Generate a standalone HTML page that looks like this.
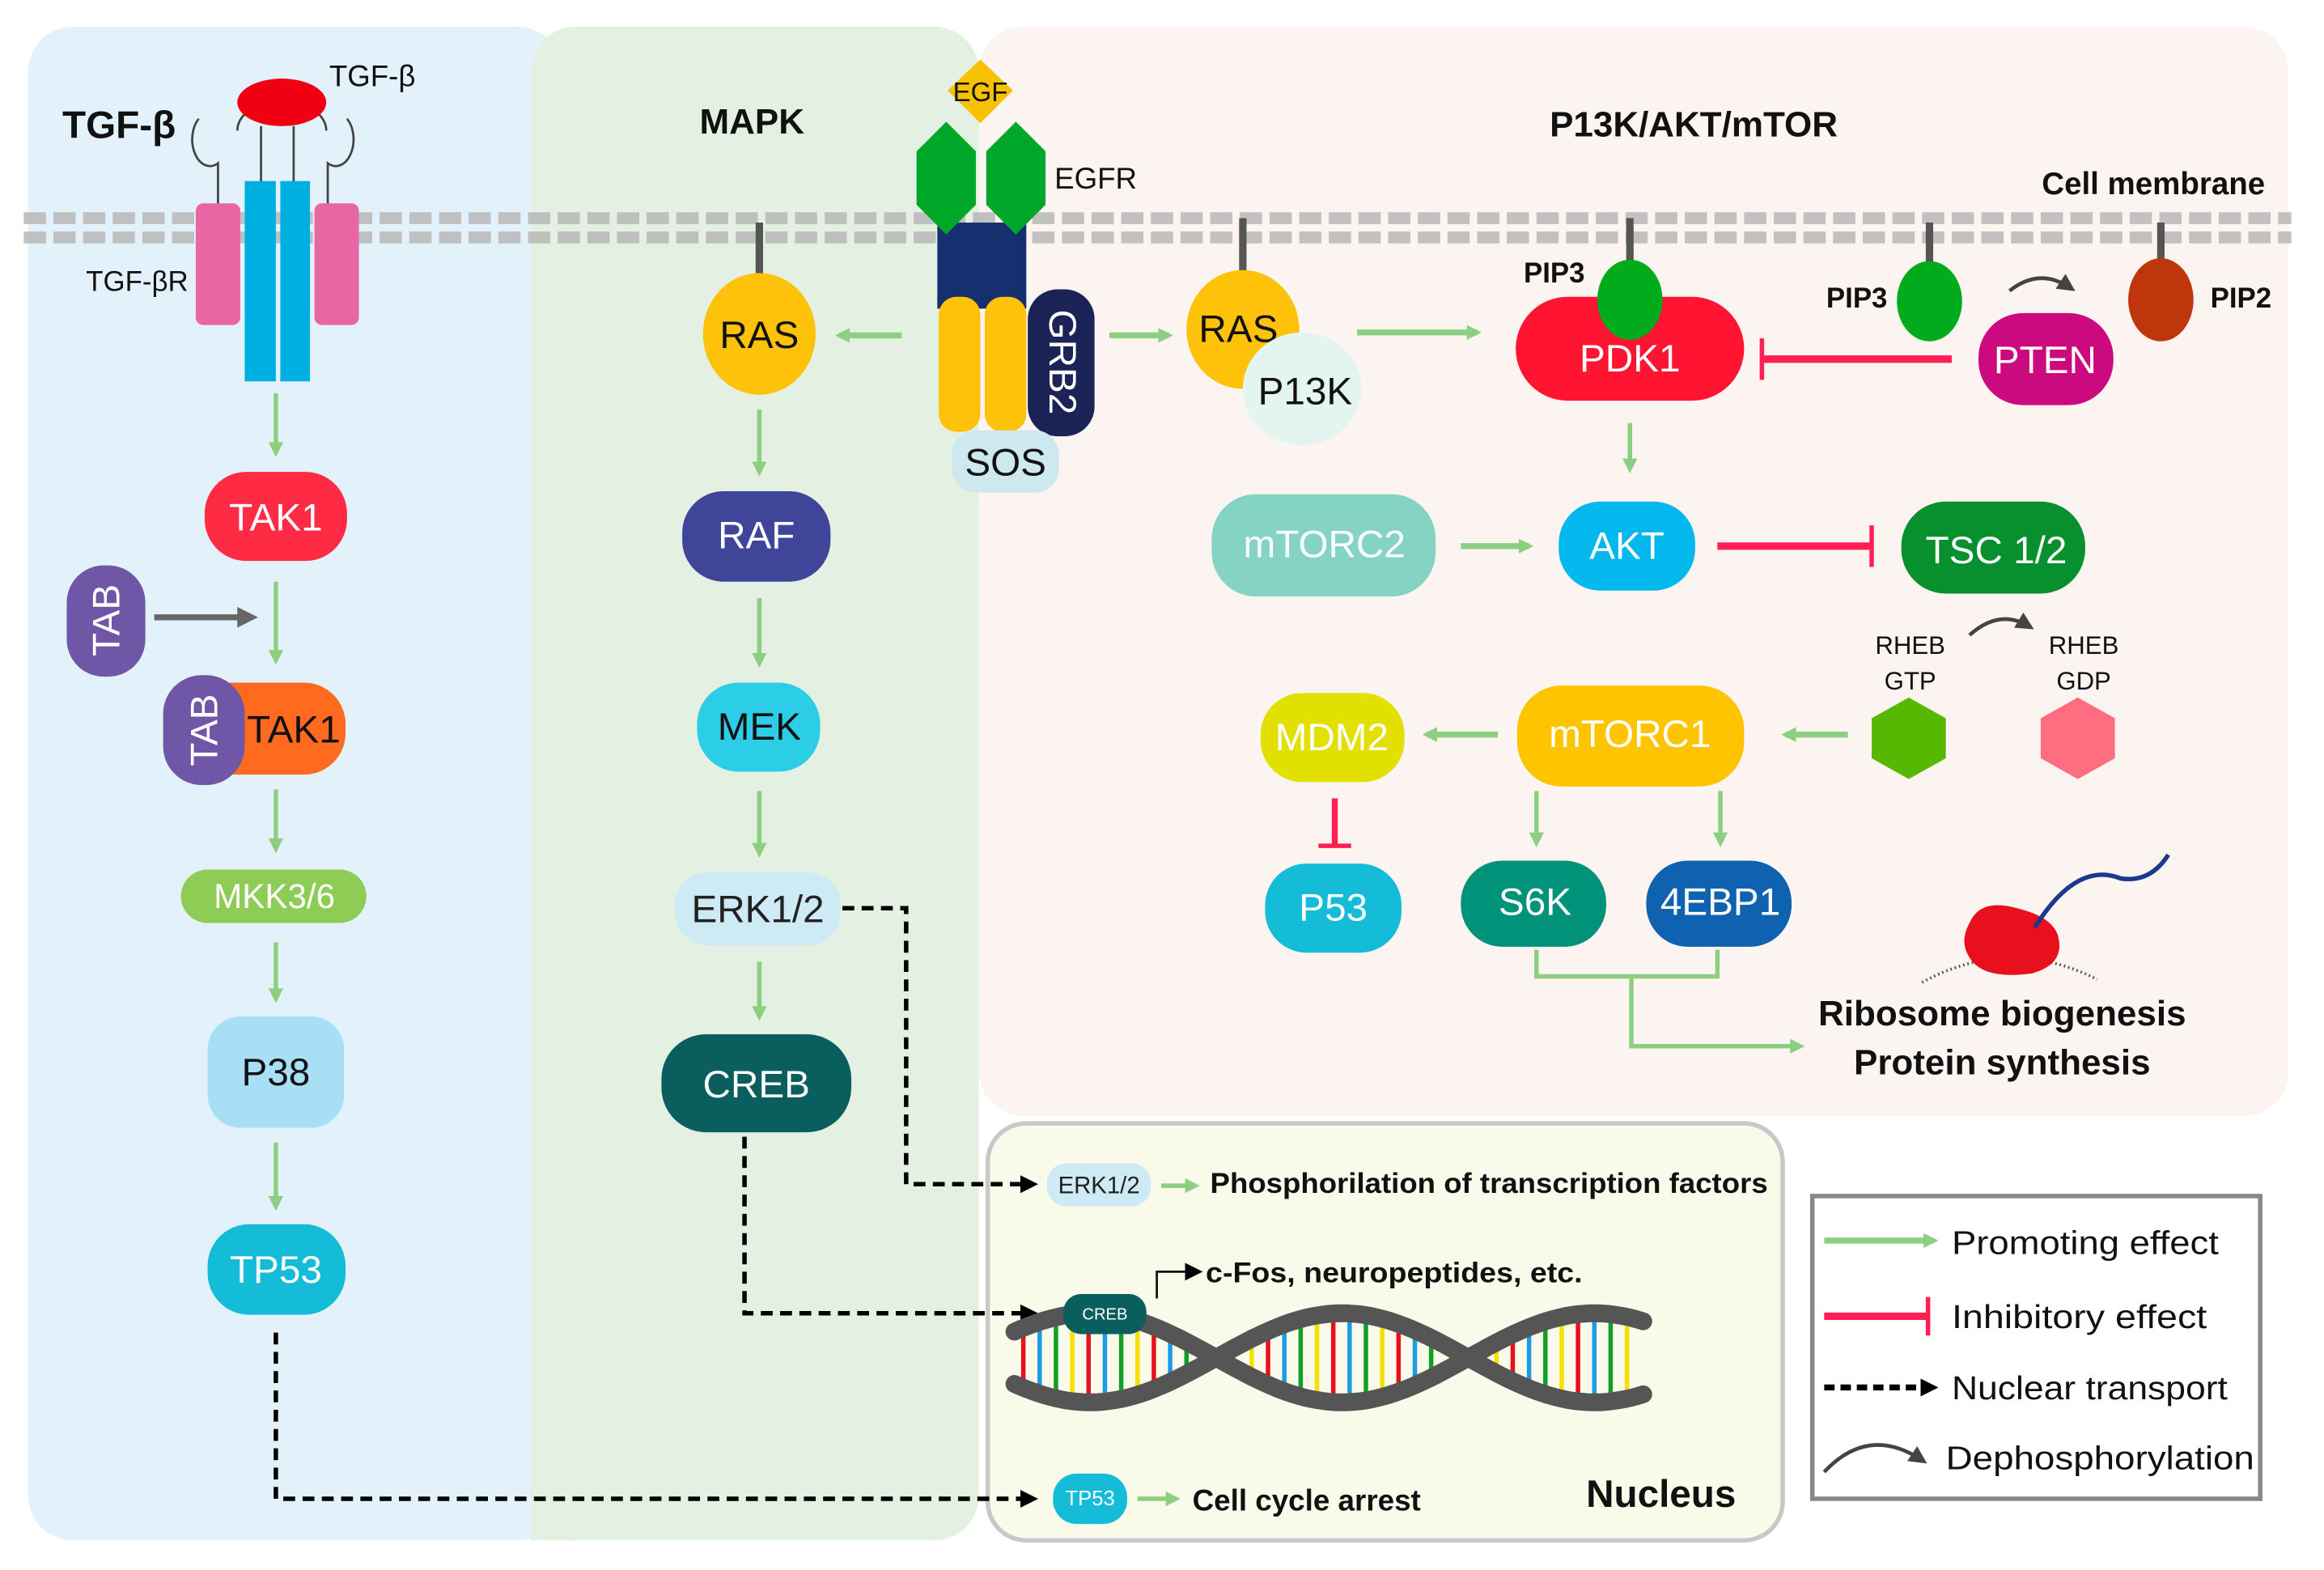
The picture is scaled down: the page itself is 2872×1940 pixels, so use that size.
<!DOCTYPE html>
<html><head><meta charset="utf-8"><style>
html,body{margin:0;padding:0;background:#fff;}
svg{display:block;}
text{font-family:"Liberation Sans",sans-serif;}
</style></head><body>
<svg id="s" width="2872" height="1940" viewBox="0 0 1567 1058" preserveAspectRatio="none" xmlns="http://www.w3.org/2000/svg">
<defs>
<marker id="ga" markerWidth="10" markerHeight="10" refX="7" refY="5" orient="auto" markerUnits="userSpaceOnUse"><path d="M0,0 L10,5 L0,10 Z" fill="#8ccf80"/></marker>
<marker id="ka" markerWidth="12" markerHeight="12" refX="9" refY="6" orient="auto" markerUnits="userSpaceOnUse"><path d="M0,0 L12,6 L0,12 Z" fill="#000"/></marker>
<marker id="da" markerWidth="14" markerHeight="14" refX="10" refY="7" orient="auto" markerUnits="userSpaceOnUse"><path d="M0,0 L14,7 L0,14 Z" fill="#666"/></marker>
<marker id="ca" markerWidth="12" markerHeight="12" refX="8" refY="6" orient="auto" markerUnits="userSpaceOnUse"><path d="M0,0 L12,6 L0,12 Z" fill="#444"/></marker>
</defs>
<!-- panels -->
<rect x="19" y="18" width="360" height="1020" rx="30" fill="#e3f2fa"/>
<rect x="660" y="18" width="883" height="734" rx="30" fill="#fcf4f1"/>
<rect x="358" y="18" width="302" height="1020" rx="30" fill="#e3f0e2"/>
<rect x="358" y="60" width="30" height="978" fill="#e3f0e2"/>
<rect x="666" y="757" width="536" height="281" rx="26" fill="#fafaeb" stroke="#c8c8c8" stroke-width="3"/>
<rect x="1222" y="806" width="302" height="204" fill="#fff" stroke="#888" stroke-width="3"/>
<!-- membrane -->
<line x1="16" y1="147" x2="1545" y2="147" stroke="#b8b8b8" stroke-width="8" stroke-dasharray="15 5" opacity="0.85"/>
<line x1="16" y1="160" x2="1545" y2="160" stroke="#b8b8b8" stroke-width="8" stroke-dasharray="15 5" opacity="0.85"/>

<g font-size="26" text-anchor="middle" dominant-baseline="central" fill="#fff">
<!-- TGF -->
<text x="42" y="93" font-size="26" font-weight="bold" fill="#111" text-anchor="start" dominant-baseline="auto">TGF-β</text>
<text x="222" y="58" font-size="20" fill="#111" text-anchor="start" dominant-baseline="auto">TGF-β</text>
<text x="58" y="196" font-size="19" fill="#111" text-anchor="start" dominant-baseline="auto">TGF-βR</text>
<path d="M160,88 A30,20 0 1 1 220,88" fill="none" stroke="#444" stroke-width="1.5"/>
<ellipse cx="190" cy="69" rx="30" ry="16" fill="#f00010"/>
<line x1="176" y1="85" x2="176" y2="125" stroke="#444" stroke-width="1.5"/>
<line x1="198" y1="85" x2="198" y2="125" stroke="#444" stroke-width="1.5"/>
<path d="M134,80 A12,18 0 0 0 147,110 L147,140" fill="none" stroke="#444" stroke-width="1.5"/>
<path d="M234,80 A12,18 0 0 1 221,110 L221,140" fill="none" stroke="#444" stroke-width="1.5"/>
<rect x="132" y="137" width="30" height="82" rx="5" fill="#e966a5"/>
<rect x="212" y="137" width="30" height="82" rx="5" fill="#e966a5"/>
<rect x="165" y="122" width="21" height="135" fill="#00afe2"/>
<rect x="189" y="122" width="20" height="135" fill="#00afe2"/>
<line x1="186" y1="265" x2="186" y2="305" stroke="#8ccf80" stroke-width="3" marker-end="url(#ga)"/>
<rect x="138" y="318" width="96" height="60" rx="28" fill="#ff2a44"/><text x="186" y="349">TAK1</text>
<line x1="186" y1="392" x2="186" y2="445" stroke="#8ccf80" stroke-width="3" marker-end="url(#ga)"/>
<rect x="45" y="381" width="53" height="75" rx="25" fill="#6f56a6"/><text transform="translate(72,418) rotate(-90)">TAB</text>
<line x1="104" y1="416" x2="170" y2="416" stroke="#666" stroke-width="4" marker-end="url(#da)"/>
<rect x="128" y="460" width="105" height="62" rx="28" fill="#ff6a1e"/><text x="198" y="492" fill="#111">TAK1</text>
<rect x="110" y="455" width="55" height="74" rx="26" fill="#6f56a6"/><text transform="translate(138,492) rotate(-90)">TAB</text>
<line x1="186" y1="532" x2="186" y2="572" stroke="#8ccf80" stroke-width="3" marker-end="url(#ga)"/>
<rect x="122" y="586" width="125" height="36" rx="18" fill="#8dcc55"/><text x="185" y="604" font-size="23">MKK3/6</text>
<line x1="186" y1="635" x2="186" y2="673" stroke="#8ccf80" stroke-width="3" marker-end="url(#ga)"/>
<rect x="140" y="685" width="92" height="75" rx="22" fill="#a8dff5"/><text x="186" y="723" fill="#111">P38</text>
<line x1="186" y1="770" x2="186" y2="813" stroke="#8ccf80" stroke-width="3" marker-end="url(#ga)"/>
<rect x="140" y="825" width="93" height="61" rx="28" fill="#14bcd8"/><text x="186" y="856">TP53</text>
<polyline points="186,898 186,1010 697,1010" fill="none" stroke="#000" stroke-width="3" stroke-dasharray="8 5" marker-end="url(#ka)"/>

<!-- MAPK -->
<text x="507" y="82" font-size="24" font-weight="bold" fill="#111">MAPK</text>
<line x1="512" y1="150" x2="512" y2="186" stroke="#555" stroke-width="5"/>
<ellipse cx="512" cy="225" rx="38" ry="41" fill="#fec20a"/><text x="512" y="226" fill="#111">RAS</text>
<line x1="608" y1="226" x2="566" y2="226" stroke="#8ccf80" stroke-width="4" marker-end="url(#ga)"/>
<line x1="512" y1="276" x2="512" y2="318" stroke="#8ccf80" stroke-width="3" marker-end="url(#ga)"/>
<rect x="460" y="331" width="100" height="61" rx="28" fill="#3f4599"/><text x="510" y="361">RAF</text>
<line x1="512" y1="403" x2="512" y2="447" stroke="#8ccf80" stroke-width="3" marker-end="url(#ga)"/>
<rect x="470" y="460" width="83" height="60" rx="28" fill="#2ccde6"/><text x="512" y="490" fill="#111">MEK</text>
<line x1="512" y1="533" x2="512" y2="575" stroke="#8ccf80" stroke-width="3" marker-end="url(#ga)"/>
<rect x="455" y="588" width="112" height="49" rx="22" fill="#cdeaf5"/><text x="511" y="613" fill="#222">ERK1/2</text>
<line x1="512" y1="648" x2="512" y2="685" stroke="#8ccf80" stroke-width="3" marker-end="url(#ga)"/>
<rect x="446" y="697" width="128" height="66" rx="30" fill="#0a5e5e"/><text x="510" y="731">CREB</text>
<polyline points="568,612 611,612 611,798 697,798" fill="none" stroke="#000" stroke-width="3" stroke-dasharray="8 5" marker-end="url(#ka)"/>
<polyline points="502,766 502,885 697,885" fill="none" stroke="#000" stroke-width="3" stroke-dasharray="8 5" marker-end="url(#ka)"/>

<!-- EGFR -->
<rect x="632" y="150" width="60" height="58" fill="#14306e"/>
<polygon points="638,82 658,102 658,138 638,158 618,138 618,102" fill="#00a82a"/>
<polygon points="685,82 705,102 705,138 685,158 665,138 665,102" fill="#00a82a"/>
<polygon points="661,40 683,61 661,83 639,61" fill="#f6c200"/>
<text x="661" y="62" font-size="18" fill="#111">EGF</text>
<text x="711" y="127" font-size="20" fill="#111" text-anchor="start" dominant-baseline="auto">EGFR</text>
<rect x="633" y="200" width="28" height="91" rx="12" fill="#fec20a"/>
<rect x="664" y="200" width="28" height="91" rx="12" fill="#fec20a"/>
<rect x="693" y="195" width="45" height="99" rx="20" fill="#1c2457"/><text transform="translate(716,244) rotate(90)">GRB2</text>
<rect x="642" y="290" width="72" height="42" rx="16" fill="#cde9ef"/><text x="678" y="312" fill="#111">SOS</text>
<line x1="748" y1="226" x2="788" y2="226" stroke="#8ccf80" stroke-width="4" marker-end="url(#ga)"/>

<!-- PI3K -->
<text x="1142" y="84" font-size="24" font-weight="bold" fill="#111">P13K/AKT/mTOR</text>
<text x="1452" y="124" font-size="21" font-weight="bold" fill="#111">Cell membrane</text>
<line x1="838" y1="147" x2="838" y2="186" stroke="#555" stroke-width="5"/>
<ellipse cx="838" cy="222" rx="38" ry="40" fill="#fec20a"/><text x="835" y="222" fill="#111">RAS</text>
<ellipse cx="878" cy="262" rx="40" ry="38" fill="#e4f4f0"/><text x="880" y="264" fill="#111">P13K</text>
<line x1="915" y1="224" x2="996" y2="224" stroke="#8ccf80" stroke-width="4" marker-end="url(#ga)"/>
<rect x="1022" y="200" width="154" height="70" rx="35" fill="#ff1431"/><text x="1099" y="242">PDK1</text>
<line x1="1099" y1="147" x2="1099" y2="180" stroke="#555" stroke-width="5"/>
<ellipse cx="1099" cy="202" rx="22" ry="27" fill="#00ab1c"/>
<text x="1048" y="184" font-size="19" font-weight="bold" fill="#111">PIP3</text>
<line x1="1316" y1="242" x2="1188" y2="242" stroke="#ff1f55" stroke-width="5"/>
<line x1="1188" y1="228" x2="1188" y2="256" stroke="#ff1f55" stroke-width="3"/>
<line x1="1301" y1="150" x2="1301" y2="180" stroke="#555" stroke-width="5"/>
<ellipse cx="1301" cy="203" rx="22" ry="27" fill="#00ab1c"/>
<text x="1252" y="201" font-size="19" font-weight="bold" fill="#111">PIP3</text>
<rect x="1334" y="211" width="91" height="62" rx="30" fill="#cc0a7f"/><text x="1379" y="243">PTEN</text>
<path d="M1355,196 Q1375,180 1396,194" fill="none" stroke="#444" stroke-width="2.5" marker-end="url(#ca)"/>
<line x1="1457" y1="150" x2="1457" y2="180" stroke="#555" stroke-width="5"/>
<ellipse cx="1457" cy="202" rx="22" ry="28" fill="#c0360c"/>
<text x="1511" y="201" font-size="19" font-weight="bold" fill="#111">PIP2</text>
<line x1="1099" y1="285" x2="1099" y2="316" stroke="#8ccf80" stroke-width="3" marker-end="url(#ga)"/>
<rect x="817" y="333" width="151" height="69" rx="30" fill="#85d3c5"/><text x="893" y="367">mTORC2</text>
<line x1="985" y1="368" x2="1031" y2="368" stroke="#8ccf80" stroke-width="4" marker-end="url(#ga)"/>
<rect x="1051" y="338" width="92" height="60" rx="28" fill="#02b8ec"/><text x="1097" y="368">AKT</text>
<line x1="1158" y1="368" x2="1262" y2="368" stroke="#ff1f55" stroke-width="5"/>
<line x1="1262" y1="354" x2="1262" y2="382" stroke="#ff1f55" stroke-width="3"/>
<rect x="1282" y="338" width="124" height="62" rx="30" fill="#08902f"/><text x="1346" y="371">TSC 1/2</text>
<text x="1288" y="435" font-size="17" fill="#111">RHEB</text><text x="1288" y="459" font-size="17" fill="#111">GTP</text>
<text x="1405" y="435" font-size="17" fill="#111">RHEB</text><text x="1405" y="459" font-size="17" fill="#111">GDP</text>
<path d="M1328,428 Q1348,410 1368,422" fill="none" stroke="#444" stroke-width="2.5" marker-end="url(#ca)"/>
<polygon points="1287,470 1312,484 1312,511 1287,525 1262,511 1262,484" fill="#56b900"/>
<polygon points="1401,470 1426,484 1426,511 1401,525 1376,511 1376,484" fill="#ff6e80"/>
<line x1="1246" y1="495" x2="1204" y2="495" stroke="#8ccf80" stroke-width="4" marker-end="url(#ga)"/>
<rect x="1023" y="462" width="153" height="68" rx="30" fill="#ffc400"/><text x="1099" y="495">mTORC1</text>
<line x1="1010" y1="495" x2="962" y2="495" stroke="#8ccf80" stroke-width="4" marker-end="url(#ga)"/>
<rect x="850" y="467" width="97" height="60" rx="28" fill="#e1e000"/><text x="898" y="497">MDM2</text>
<line x1="900" y1="538" x2="900" y2="570" stroke="#ff1f55" stroke-width="4"/>
<line x1="889" y1="570" x2="911" y2="570" stroke="#ff1f55" stroke-width="3"/>
<rect x="853" y="582" width="92" height="60" rx="28" fill="#14bcd8"/><text x="899" y="612">P53</text>
<line x1="1036" y1="533" x2="1036" y2="568" stroke="#8ccf80" stroke-width="3" marker-end="url(#ga)"/>
<line x1="1160" y1="533" x2="1160" y2="568" stroke="#8ccf80" stroke-width="3" marker-end="url(#ga)"/>
<rect x="985" y="580" width="98" height="58" rx="28" fill="#00937a"/><text x="1035" y="608">S6K</text>
<rect x="1110" y="580" width="98" height="58" rx="28" fill="#0f62b0"/><text x="1160" y="608">4EBP1</text>
<polyline points="1036,640 1036,658 1158,658 1158,640" fill="none" stroke="#8ccf80" stroke-width="3"/>
<polyline points="1100,658 1100,705 1214,705" fill="none" stroke="#8ccf80" stroke-width="3" marker-end="url(#ga)"/>
<!-- ribosome -->
<path d="M1296,662 Q1355,630 1414,660" fill="none" stroke="#555" stroke-width="2" stroke-dasharray="1 2"/>
<path d="M1328,622 Q1335,605 1360,612 Q1385,618 1388,632 Q1392,650 1370,656 Q1340,660 1330,648 Q1320,636 1328,622 Z" fill="#e8101c"/>
<path d="M1372,625 Q1400,580 1430,592 Q1450,595 1462,576" fill="none" stroke="#1a3a8c" stroke-width="3"/>
<text x="1350" y="683" font-size="24" font-weight="bold" fill="#111">Ribosome biogenesis</text>
<text x="1350" y="716" font-size="24" font-weight="bold" fill="#111">Protein synthesis</text>

<!-- nucleus -->
<rect x="706" y="784" width="70" height="29" rx="13" fill="#cdeaf5"/><text x="741" y="799" font-size="16" fill="#222">ERK1/2</text>
<line x1="783" y1="799" x2="806" y2="799" stroke="#8ccf80" stroke-width="3" marker-end="url(#ga)"/>
<text x="816" y="804" font-size="19" font-weight="bold" fill="#111" text-anchor="start" dominant-baseline="auto" textLength="376" lengthAdjust="spacingAndGlyphs">Phosphorilation of transcription factors</text>
<polyline points="780,875 780,857 808,857" fill="none" stroke="#111" stroke-width="1.5" marker-end="url(#ka)"/>
<text x="813" y="864" font-size="19" font-weight="bold" fill="#111" text-anchor="start" dominant-baseline="auto" textLength="254" lengthAdjust="spacingAndGlyphs">c-Fos, neuropeptides, etc.</text>
<g id="dna"></g>
<rect x="717" y="872" width="56" height="27" rx="12" fill="#0a5e5e"/><text x="745" y="886" font-size="11">CREB</text>
<rect x="710" y="993" width="50" height="34" rx="16" fill="#14bcd8"/><text x="735" y="1010" font-size="14">TP53</text>
<line x1="767" y1="1010" x2="793" y2="1010" stroke="#8ccf80" stroke-width="3" marker-end="url(#ga)"/>
<text x="804" y="1018" font-size="20" font-weight="bold" fill="#111" text-anchor="start" dominant-baseline="auto" textLength="154" lengthAdjust="spacingAndGlyphs">Cell cycle arrest</text>
<text x="1120" y="1007" font-size="26" font-weight="bold" fill="#111">Nucleus</text>

<!-- legend -->
<line x1="1230" y1="836" x2="1304" y2="836" stroke="#8ccf80" stroke-width="4" marker-end="url(#ga)"/>
<text x="1316" y="845" font-size="22" fill="#111" text-anchor="start" dominant-baseline="auto" textLength="180" lengthAdjust="spacingAndGlyphs">Promoting effect</text>
<line x1="1230" y1="887" x2="1300" y2="887" stroke="#ff1f55" stroke-width="5"/>
<line x1="1300" y1="874" x2="1300" y2="900" stroke="#ff1f55" stroke-width="3"/>
<text x="1316" y="895" font-size="22" fill="#111" text-anchor="start" dominant-baseline="auto" textLength="172" lengthAdjust="spacingAndGlyphs">Inhibitory effect</text>
<line x1="1230" y1="935" x2="1304" y2="935" stroke="#000" stroke-width="4" stroke-dasharray="7 4" marker-end="url(#ka)"/>
<text x="1316" y="943" font-size="22" fill="#111" text-anchor="start" dominant-baseline="auto" textLength="186" lengthAdjust="spacingAndGlyphs">Nuclear transport</text>
<path d="M1230,992 Q1260,960 1296,984" fill="none" stroke="#444" stroke-width="2.5" marker-end="url(#ca)"/>
<text x="1312" y="990" font-size="22" fill="#111" text-anchor="start" dominant-baseline="auto" textLength="208" lengthAdjust="spacingAndGlyphs">Dephosphorylation</text>
</g>
</svg>
<script>
(function(){
var g=document.getElementById('dna'),ns='http://www.w3.org/2000/svg';
function y1(x){return 915-30*Math.sin(2*Math.PI*(820-x)/340);}
function y2(x){return 915+30*Math.sin(2*Math.PI*(820-x)/340);}
var cols=['#e8101c','#1e9be8','#10a028','#f5e000'],i=0;
for(var x=690;x<=1102;x+=11){
 var a=y1(x),b=y2(x);
 if(Math.abs(a-b)<16){continue;}
 var l=document.createElementNS(ns,'line');
 l.setAttribute('x1',x);l.setAttribute('x2',x);l.setAttribute('y1',a);l.setAttribute('y2',b);
 l.setAttribute('stroke',cols[i%4]);l.setAttribute('stroke-width','3');g.appendChild(l);i++;
}
[y1,y2].forEach(function(f){
 var p=[];for(var x=684;x<=1108;x+=4)p.push(x+','+f(x).toFixed(1));
 var pl=document.createElementNS(ns,'polyline');
 pl.setAttribute('points',p.join(' '));pl.setAttribute('fill','none');
 pl.setAttribute('stroke','#555');pl.setAttribute('stroke-width','12');pl.setAttribute('stroke-linecap','round');
 g.appendChild(pl);
});
})();
</script>
</body></html>
